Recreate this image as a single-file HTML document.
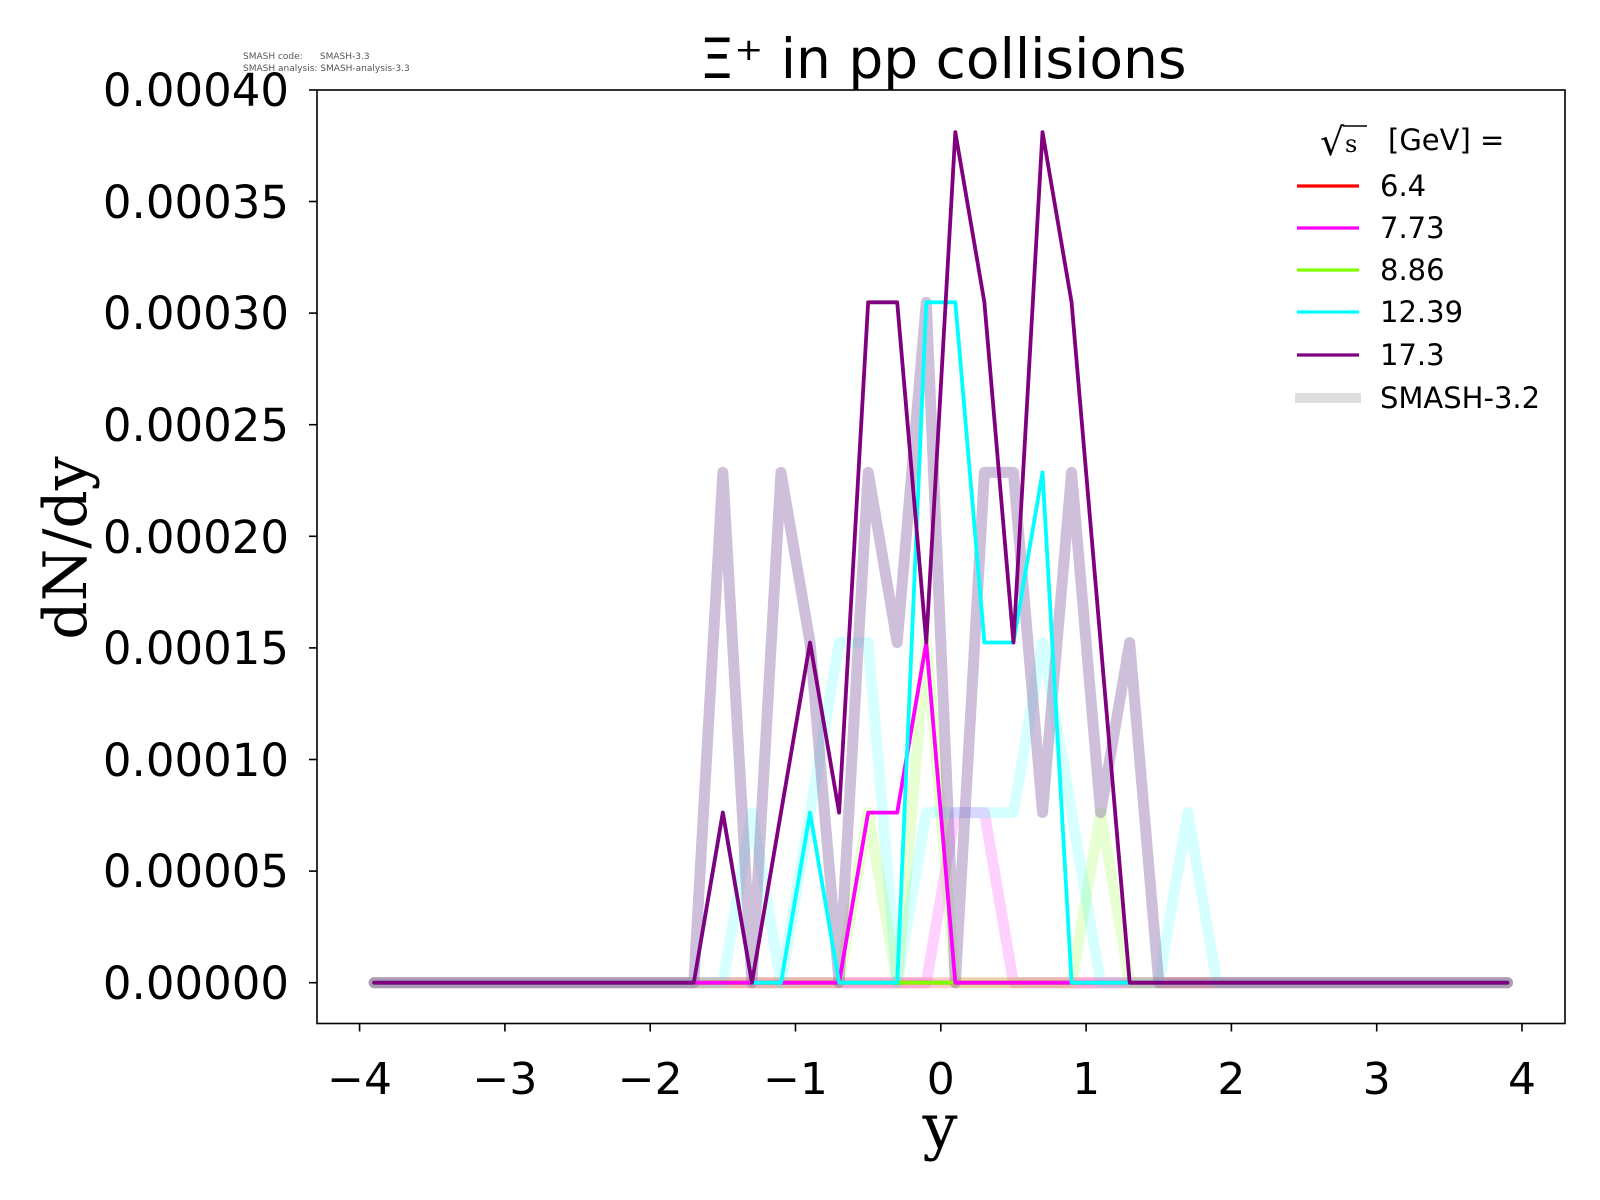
<!DOCTYPE html>
<html><head><meta charset="utf-8"><style>body{margin:0;background:#fff}svg{display:block}</style></head>
<body>
<svg width="1600" height="1200" xmlns="http://www.w3.org/2000/svg" font-family="'DejaVu Sans','Liberation Sans',sans-serif">
<rect width="1600" height="1200" fill="#fff"/>
<text x="243" y="59" font-size="9" fill="#555" style="white-space:pre">SMASH code:      SMASH-3.3</text>
<text x="243" y="71" font-size="9" fill="#555" style="white-space:pre">SMASH analysis: SMASH-analysis-3.3</text>
<text x="943" y="78" font-size="55" text-anchor="middle">Ξ⁺ in pp collisions</text>
<g fill="none" stroke-linejoin="round" stroke-linecap="round" transform="translate(940.8,982.7) scale(145.3,-170.1)">
<g stroke-width="11">
<polyline vector-effect="non-scaling-stroke" stroke="#ff0000" stroke-opacity="0.2" points="-3.9,0 3.9,0"/>
<polyline vector-effect="non-scaling-stroke" stroke="#ff00ff" stroke-opacity="0.18" points="-3.9,0 -0.1,0 0.1,1 0.3,1 0.5,0 3.9,0"/>
<polyline vector-effect="non-scaling-stroke" stroke="#7fff00" stroke-opacity="0.18" points="-3.9,0 -0.7,0 -0.5,1 -0.3,0 -0.1,2 0.1,0 0.9,0 1.1,1 1.3,0 3.9,0"/>
<polyline vector-effect="non-scaling-stroke" stroke="#00ffff" stroke-opacity="0.16" points="-3.9,0 -1.5,0 -1.3,1 -1.1,0 -0.9,1 -0.7,2 -0.5,2 -0.3,0 -0.1,1 0.5,1 0.7,2 0.9,1 1.1,0 1.5,0 1.7,1 1.9,0 3.9,0"/>
<polyline vector-effect="non-scaling-stroke" stroke="#8a6aa8" stroke-opacity="0.42" points="-3.9,0 -1.7,0 -1.5,3 -1.3,0 -1.1,3 -0.9,2 -0.7,0 -0.5,3 -0.3,2 -0.1,4 0.1,0 0.3,3 0.5,3 0.7,1 0.9,3 1.1,1 1.3,2 1.5,0 3.9,0"/>
</g>
<g stroke-width="3.8">
<polyline vector-effect="non-scaling-stroke" stroke="#ff0000" points="-3.9,0 3.9,0"/>
<polyline vector-effect="non-scaling-stroke" stroke="#7fff00" points="-3.9,0 3.9,0"/>
<polyline vector-effect="non-scaling-stroke" stroke="#ff00ff" points="-3.9,0 -0.7,0 -0.5,1 -0.3,1 -0.1,2 0.1,0 3.9,0"/>
<polyline vector-effect="non-scaling-stroke" stroke="#00ffff" points="-3.9,0 -1.7,0 -1.5,1 -1.3,0 -1.1,0 -0.9,1 -0.7,0 -0.3,0 -0.1,4 0.1,4 0.3,2 0.5,2 0.7,3 0.9,0 3.9,0"/>
<polyline vector-effect="non-scaling-stroke" stroke="#800080" points="-3.9,0 -1.7,0 -1.5,1 -1.3,0 -1.1,1 -0.9,2 -0.7,1 -0.5,4 -0.3,4 -0.1,2 0.1,5 0.3,4 0.5,2 0.7,5 0.9,4 1.1,2 1.3,0 3.9,0"/>
</g>
</g>
<rect x="317" y="90" width="1248" height="933.5" fill="none" stroke="#000" stroke-width="1.6"/>
<g stroke="#000" stroke-width="1.6">
<line x1="317" x2="309" y1="982.7" y2="982.7"/><line x1="317" x2="309" y1="871.1" y2="871.1"/><line x1="317" x2="309" y1="759.5" y2="759.5"/><line x1="317" x2="309" y1="647.9" y2="647.9"/><line x1="317" x2="309" y1="536.3" y2="536.3"/><line x1="317" x2="309" y1="424.7" y2="424.7"/><line x1="317" x2="309" y1="313.1" y2="313.1"/><line x1="317" x2="309" y1="201.5" y2="201.5"/><line x1="317" x2="309" y1="90" y2="90"/>
<line x1="359.6" x2="359.6" y1="1023.5" y2="1031.5"/><line x1="504.9" x2="504.9" y1="1023.5" y2="1031.5"/><line x1="650.2" x2="650.2" y1="1023.5" y2="1031.5"/><line x1="795.5" x2="795.5" y1="1023.5" y2="1031.5"/><line x1="940.8" x2="940.8" y1="1023.5" y2="1031.5"/><line x1="1086.1" x2="1086.1" y1="1023.5" y2="1031.5"/><line x1="1231.4" x2="1231.4" y1="1023.5" y2="1031.5"/><line x1="1376.7" x2="1376.7" y1="1023.5" y2="1031.5"/><line x1="1522" x2="1522" y1="1023.5" y2="1031.5"/>
</g>
<g font-size="45" text-anchor="end">
<text x="289" y="999">0.00000</text><text x="289" y="887">0.00005</text><text x="289" y="776">0.00010</text><text x="289" y="664">0.00015</text><text x="289" y="553">0.00020</text><text x="289" y="441">0.00025</text><text x="289" y="329">0.00030</text><text x="289" y="218">0.00035</text><text x="289" y="106">0.00040</text>
</g>
<g font-size="44" text-anchor="middle">
<text x="359.6" y="1094">−4</text><text x="504.9" y="1094">−3</text><text x="650.2" y="1094">−2</text><text x="795.5" y="1094">−1</text><text x="940.8" y="1094">0</text><text x="1086.1" y="1094">1</text><text x="1231.4" y="1094">2</text><text x="1376.7" y="1094">3</text><text x="1522" y="1094">4</text>
</g>
<text x="940" y="1148" font-size="62" text-anchor="middle" font-family="'DejaVu Serif','Liberation Serif',serif">y</text>
<text transform="translate(86,548) rotate(-90)" font-size="60" text-anchor="middle" font-family="'DejaVu Serif','Liberation Serif',serif">dN/dy</text>
<g font-size="29">
<text x="1320" y="155" font-family="'DejaVu Serif',serif" font-size="38">√</text>
<line x1="1343" x2="1367" y1="126" y2="126" stroke="#000" stroke-width="1.5"/>
<text x="1345" y="152" font-family="'DejaVu Serif',serif" font-size="24">s</text>
<text x="1388" y="150">[GeV] =</text>
<line x1="1297" x2="1359" y1="186" y2="186" stroke="#ff0000" stroke-width="3.3"/><text x="1380" y="196">6.4</text>
<line x1="1297" x2="1359" y1="228" y2="228" stroke="#ff00ff" stroke-width="3.3"/><text x="1380" y="238">7.73</text>
<line x1="1297" x2="1359" y1="270" y2="270" stroke="#7fff00" stroke-width="3.3"/><text x="1380" y="280">8.86</text>
<line x1="1297" x2="1359" y1="312" y2="312" stroke="#00ffff" stroke-width="3.3"/><text x="1380" y="322">12.39</text>
<line x1="1297" x2="1359" y1="355" y2="355" stroke="#800080" stroke-width="3.3"/><text x="1380" y="365">17.3</text>
<line x1="1295" x2="1361" y1="398" y2="398" stroke="#dddddd" stroke-width="10"/><text x="1380" y="408">SMASH-3.2</text>
</g>
</svg>
</body></html>
